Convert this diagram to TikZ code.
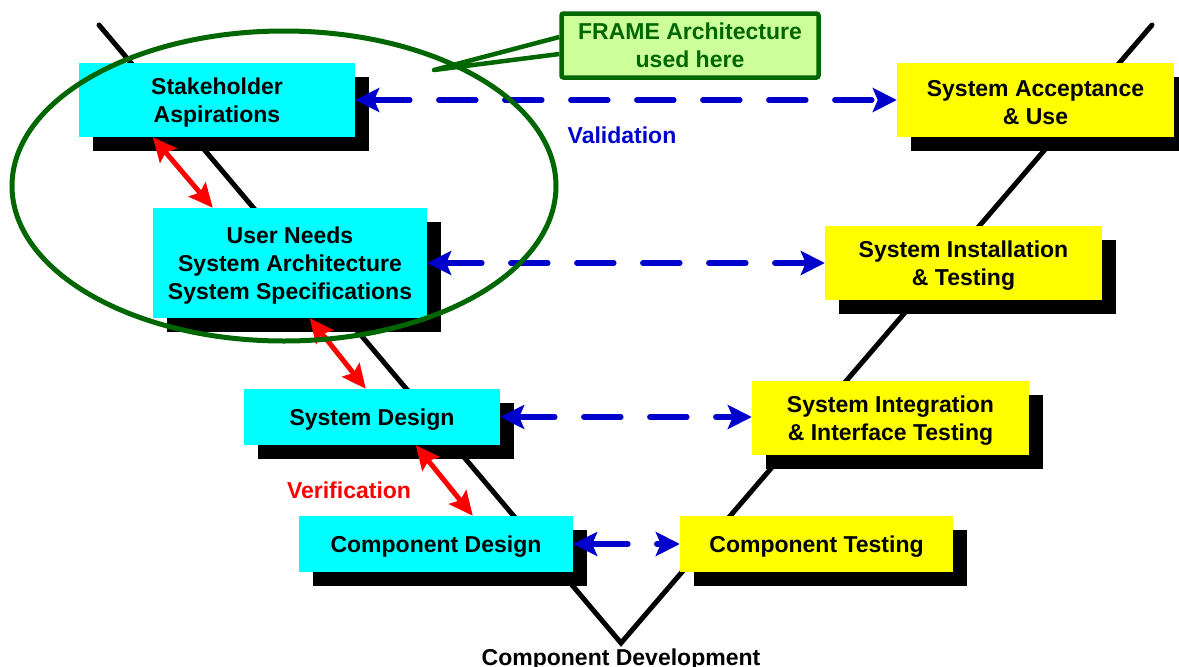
\documentclass[tikz,border=0pt]{standalone}
\usepackage{fontspec}
\setmainfont{Liberation Sans}
\usetikzlibrary{arrows.meta,shadows,calc}
\definecolor{vcyan}{RGB}{0,255,255}
\definecolor{vyellow}{RGB}{255,255,0}
\definecolor{vblue}{RGB}{0,0,204}
\definecolor{vred}{RGB}{255,0,0}
\definecolor{vgreen}{RGB}{0,102,0}
\definecolor{vlight}{RGB}{204,255,153}
\newcommand{\vstrut}{\rule{0pt}{21pt}}
\begin{document}
\begin{tikzpicture}[x=1pt,y=-1pt,
  txt/.style={font=\fontsize{23pt}{28pt}\selectfont\bfseries, align=center},
  box/.style={txt, rectangle, inner sep=0pt, text=black,
     general shadow={fill=black, shadow xshift=14pt, shadow yshift=-14pt}},
  cbox/.style={box, fill=vcyan},
  ybox/.style={box, fill=vyellow},
  varrow/.style={draw=vblue, line width=5.5pt, dash pattern=on 37pt off 29pt, line cap=round,
     {Stealth[length=24pt,width=24pt,inset=5pt]}-{Stealth[length=24pt,width=24pt,inset=5pt]}},
  rarrow/.style={draw=vred, line width=5pt,
     {Stealth[length=24pt,width=22pt,inset=4pt]}-{Stealth[length=24pt,width=22pt,inset=4pt]}},
  vline/.style={draw=black, line width=5pt, line cap=round, line join=miter}
]
\useasboundingbox (0,0) rectangle (1179,667);
\clip (0,0) rectangle (1179,667);

% V shape
\coordinate (vl) at (99,25);
\coordinate (vb) at (621,643);
\coordinate (vr) at (1152,25);
\draw[vline] (vl) -- (vb) -- (vr);

% boxes
\node[cbox, minimum width=276pt, minimum height=74pt] (sa) at (217,100) {\vstrut Stakeholder\\Aspirations};
\node[cbox, minimum width=274pt, minimum height=110pt] (un) at (290,263) {\vstrut User Needs\\System Architecture\\System Specifications};
\node[cbox, minimum width=256pt, minimum height=56pt] (sd) at (372,417) {\vstrut System Design};
\node[cbox, minimum width=274pt, minimum height=56pt] (cd) at (436,544) {\vstrut Component Design};

\node[ybox, minimum width=277pt, minimum height=74pt] (acc) at (1035.5,100) {\vstrut System Acceptance\\\& Use};
\node[ybox, minimum width=277pt, minimum height=74pt] (inst) at (963.5,263) {\vstrut System Installation\\\& Testing};
\node[ybox, minimum width=277pt, minimum height=74pt] (integ) at (890.5,418) {\vstrut System Integration\\\& Interface Testing};
\node[ybox, minimum width=273pt, minimum height=56pt] (ct) at (816.5,544) {\vstrut Component Testing};

% validation arrows
\draw[varrow] (sa.east) -- (acc.west);
\draw[varrow] (un.east) -- (inst.west);
\draw[varrow] (sd.east) -- (sd.east -| integ.west);
\draw[varrow] (cd.east) -- (ct.west);

% verification arrows
\draw[rarrow] ([xshift=74pt]sa.south west) -- ([xshift=60pt]un.north west);
\draw[rarrow] ([xshift=157pt]un.south west) -- ([xshift=122pt]sd.north west);
\draw[rarrow] ([xshift=172pt]sd.south west) -- ([xshift=174pt]cd.north west);

% labels
\node[txt, text=vblue] (val) at (622,135) {Validation};
\node[txt, text=vred] (ver) at (349,490) {Verification};
\node[txt, text=black, anchor=base] (cdev) at (621,665) {Component Development};

% ellipse
\draw[draw=vgreen, line width=5pt] (284,186) ellipse [x radius=272pt, y radius=155pt];

% callout
\coordinate (tip) at (434,70);
\node[txt, text=vgreen, fill=vlight, draw=vgreen, line width=4.5pt, rounded corners=2pt,
      minimum width=257pt, minimum height=64pt, inner sep=0pt] (fr) at (690,45.5) {FRAME Architecture\\used here};
\draw[draw=vgreen, line width=4.5pt, line join=round] ([yshift=8.5pt]fr.west) -- (tip) -- ([yshift=-8.5pt]fr.west);
\end{tikzpicture}
\end{document}
